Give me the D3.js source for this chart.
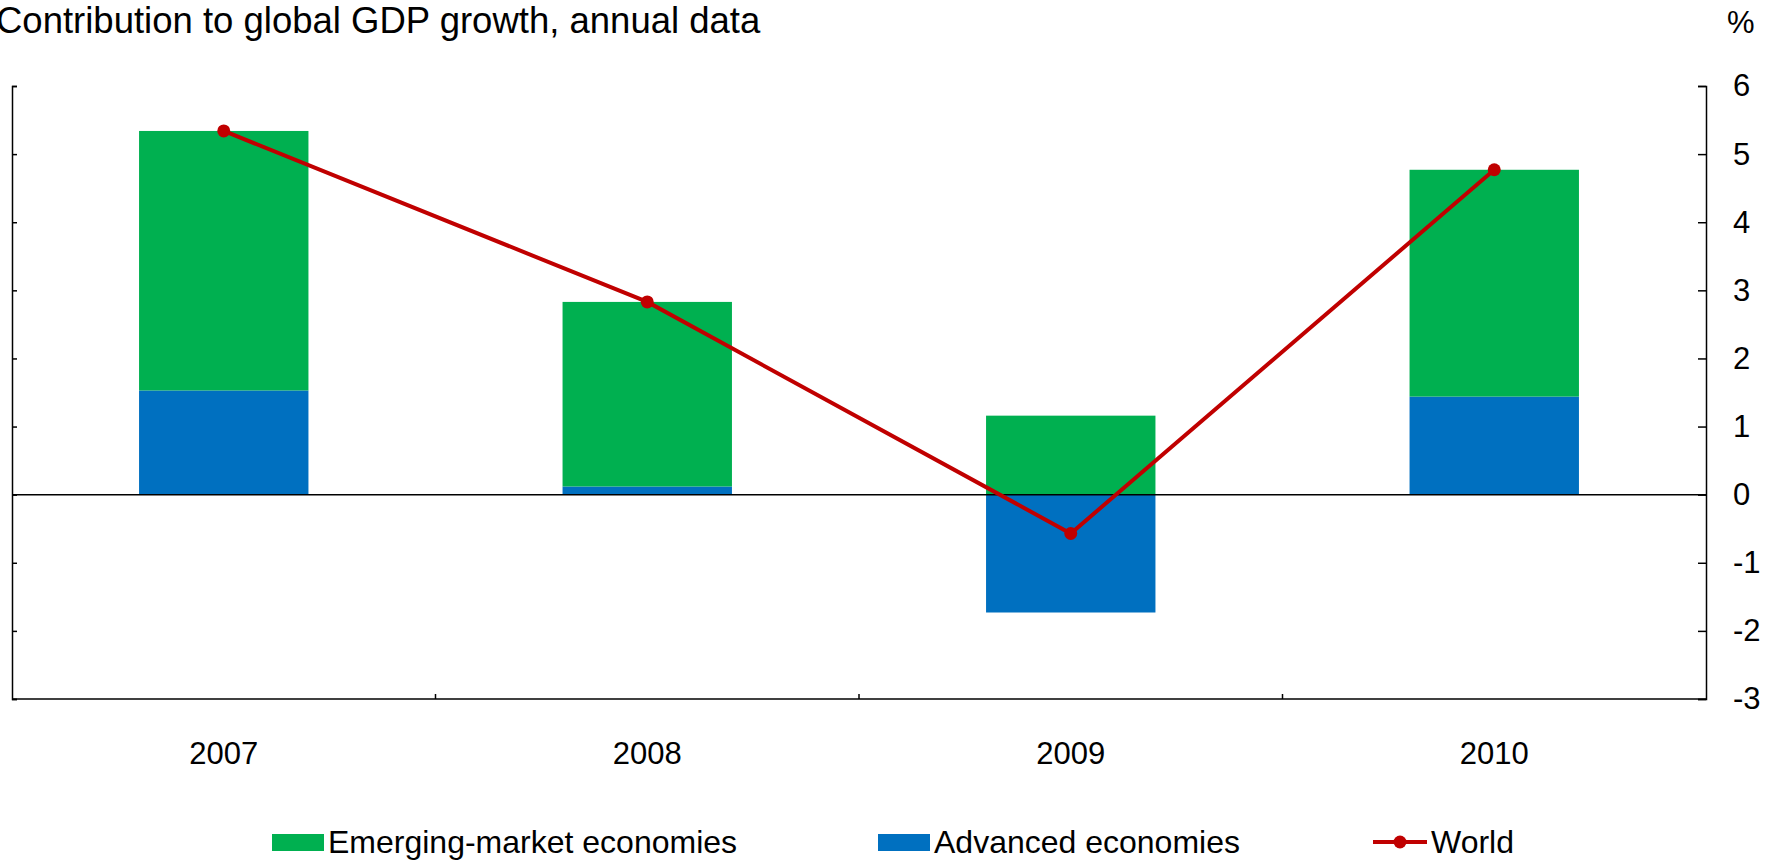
<!DOCTYPE html>
<html lang="en">
  <head>
	<meta charset="utf-8"/>
	<title>Contribution to global GDP growth</title>
	<script src="https://cdn.jsdelivr.net/npm/d3@7"></script>
	<style>
		body { margin: 0; background: #ffffff; }
		svg { display: block; font-family: "Liberation Sans", Arial, sans-serif; }
	</style>
  </head>
  <body>
	<svg id="chart"></svg>
	<script>

		const years = ['2007', '2008', '2009', '2010']
		const advanced = [1.53, 0.12, -1.73, 1.44]
		const emerging = [3.81, 2.71, 1.16, 3.33]
		const world = [5.34, 2.83, -0.57, 4.77]
		const yTicks = [-3, -2, -1, 0, 1, 2, 3, 4, 5, 6]

		const width = 1777
		const height = 861

		const colors = {
			'Emerging-market economies': '#00b050',
			'Advanced economies': '#0070c0',
			'World': '#c00000'
		}

		const svg = d3.select('#chart')
		.attr('width', width)
		.attr('height', height)

		const x = d3.scaleBand()
		.domain(years)
		.range([12, 1706])
		.paddingInner(0.6)
		.paddingOuter(0.3)

		const y = d3.scaleLinear()
		.domain([-3, 6])
		.range([699, 86])

		// title + unit
		svg.append('text')
		.attr('x', -4)
		.attr('y', 33)
		.style('font-size', '36.5px')
		.text('Contribution to global GDP growth, annual data')

		svg.append('text')
		.attr('x', 1727)
		.attr('y', 33)
		.style('font-size', '31px')
		.text('%')

		// stacked bars
		const rows = years.map((yr, i) => ({
			year: yr,
			'Advanced economies': advanced[i],
			'Emerging-market economies': emerging[i]
		}))

		const stack = d3.stack()
		.keys(['Advanced economies', 'Emerging-market economies'])
		.offset(d3.stackOffsetDiverging)

		svg.append('g')
		.selectAll('g')
		.data(stack(rows))
		.enter()
		.append('g')
		.attr('fill', (s) => colors[s.key])
		.selectAll('rect')
		.data((s) => s)
		.enter()
		.append('rect')
		.attr('x', (d) => x(d.data.year))
		.attr('width', x.bandwidth())
		.attr('y', (d) => y(Math.max(d[0], d[1])))
		.attr('height', (d) => Math.abs(y(d[0]) - y(d[1])))

		// zero line
		svg.append('line')
		.attr('x1', 12)
		.attr('x2', 1706)
		.attr('y1', y(0))
		.attr('y2', y(0))
		.attr('stroke', '#000')
		.attr('stroke-width', 1.5)

		// left axis, no labels
		svg.append('g')
		.attr('transform', 'translate(12,0)')
		.call(d3.axisLeft(y).tickValues(yTicks).tickSizeInner(-5).tickSizeOuter(-5).tickFormat(''))
		.call((g) => g.selectAll('path,line').attr('stroke', '#000').attr('stroke-width', 1.5))

		// right axis with labels (plain hyphen for negatives)
		svg.append('g')
		.attr('transform', 'translate(1706,0)')
		.call(d3.axisRight(y).tickValues(yTicks).tickSizeInner(-8).tickSizeOuter(-8).tickPadding(27)
			.tickFormat((d) => String(d)))
		.call((g) => g.selectAll('path,line').attr('stroke', '#000').attr('stroke-width', 1.5))
		.call((g) => g.selectAll('text')
			.attr('fill', '#000')
			.style('font-size', '31px')
			.style('font-family', '"Liberation Sans", Arial, sans-serif'))

		// bottom axis
		const bottom = svg.append('g')
		.attr('transform', `translate(0,${y(-3)})`)

		bottom.append('line')
		.attr('x1', 12)
		.attr('x2', 1706)
		.attr('stroke', '#000')
		.attr('stroke-width', 1.5)

		bottom.selectAll('.sep')
		.data(years.slice(1))
		.enter()
		.append('line')
		.attr('x1', (d) => x(d) - x.step() * x.paddingInner() / 2)
		.attr('x2', (d) => x(d) - x.step() * x.paddingInner() / 2)
		.attr('y1', 0)
		.attr('y2', -5)
		.attr('stroke', '#000')
		.attr('stroke-width', 1.5)

		bottom.selectAll('.lbl')
		.data(years)
		.enter()
		.append('text')
		.attr('x', (d) => x(d) + x.bandwidth() / 2)
		.attr('y', 65)
		.attr('text-anchor', 'middle')
		.style('font-size', '31px')
		.text((d) => d)

		// world line
		const cx = (i) => x(years[i]) + x.bandwidth() / 2

		svg.append('path')
		.datum(world)
		.attr('fill', 'none')
		.attr('stroke', colors['World'])
		.attr('stroke-width', 4)
		.attr('d', d3.line().x((d, i) => cx(i)).y((d) => y(d)))

		svg.append('g')
		.selectAll('circle')
		.data(world)
		.enter()
		.append('circle')
		.attr('cx', (d, i) => cx(i))
		.attr('cy', (d) => y(d))
		.attr('r', 6.5)
		.attr('fill', colors['World'])

		// legend
		const legend = svg.append('g').style('font-size', '32px')

		const boxes = [
			['Emerging-market economies', 272],
			['Advanced economies', 878]
		]

		for (let [name, lx] of boxes) {
			legend.append('rect')
			.attr('x', lx)
			.attr('y', 834)
			.attr('width', 52)
			.attr('height', 17)
			.attr('fill', colors[name])

			legend.append('text')
			.attr('x', lx + 56)
			.attr('y', 853)
			.text(name)
		}

		legend.append('line')
		.attr('x1', 1373)
		.attr('x2', 1427)
		.attr('y1', 842)
		.attr('y2', 842)
		.attr('stroke', colors['World'])
		.attr('stroke-width', 4)

		legend.append('circle')
		.attr('cx', 1400)
		.attr('cy', 842)
		.attr('r', 6.5)
		.attr('fill', colors['World'])

		legend.append('text')
		.attr('x', 1431)
		.attr('y', 853)
		.text('World')

	</script>
  </body>
</html>
